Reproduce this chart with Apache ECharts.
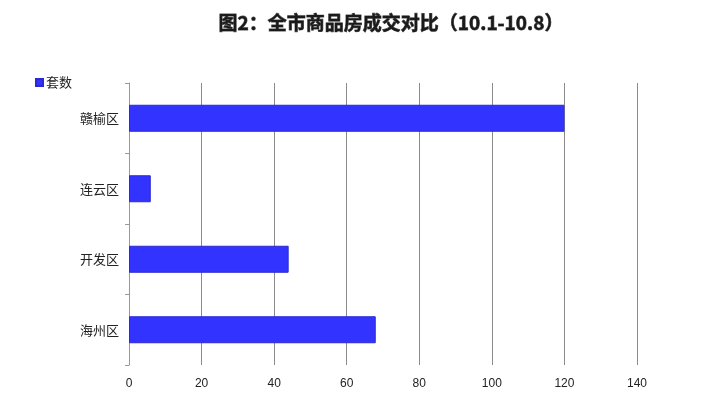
<!DOCTYPE html>
<html><head><meta charset="utf-8">
<script src="https://cdn.jsdelivr.net/npm/echarts@6/dist/echarts.min.js"></script>
<style>html,body{margin:0;padding:0;background:#fff}#c{width:720px;height:400px}</style>
</head><body><div id="c"></div>
<script>
const categories = ['海州区', '开发区', '连云区', '赣榆区'];
const values = [68, 44, 6, 120];
const xTicks = [0, 20, 40, 60, 80, 100, 120, 140];
const seriesName = '套数';
const titleText = '图2：全市商品房成交对比（10.1-10.8）';

const chart = echarts.init(document.getElementById('c'));
chart.setOption({
  animation: false,
  title: {
    text: titleText, left: 386, top: 8, textAlign: 'center',
    textStyle: {fontFamily: 'Noto Sans CJK SC', fontSize: 19, fontWeight: 'bold', color: '#1a1a1a',
      textBorderColor: '#555', textBorderWidth: 0.8}
  },
  legend: {
    data: [seriesName], left: 30, top: 71, itemWidth: 7, itemHeight: 7, itemGap: 3,
    icon: 'rect',
    textStyle: {fontFamily: 'Noto Sans CJK SC', fontSize: 13, color: '#222', padding: [0,0,0,-2]}
  },
  grid: {left: 129, right: 83, top: 83, bottom: 35},
  xAxis: {
    type: 'value', min: xTicks[0], max: xTicks[xTicks.length-1], interval: 20,
    axisLine: {show: false}, axisTick: {show: false},
    splitLine: {show: true, lineStyle: {color: '#8a8a8a', width: 1}},
    axisLabel: {fontFamily: 'Liberation Sans', fontSize: 12, color: '#222', margin: 13}
  },
  yAxis: {
    type: 'category', data: categories,
    axisLine: {show: true, lineStyle: {color: '#999', width: 1}},
    axisTick: {show: true, length: 4, lineStyle: {color: '#999'}},
    axisLabel: {fontFamily: 'Noto Sans CJK SC', fontSize: 13, color: '#222', margin: 10}
  },
  series: [{
    name: seriesName, type: 'bar', data: values, barWidth: 27,
    itemStyle: {color: '#3333ff', borderColor: '#2a2ad0', borderWidth: 1}
  }]
});
</script></body></html>
